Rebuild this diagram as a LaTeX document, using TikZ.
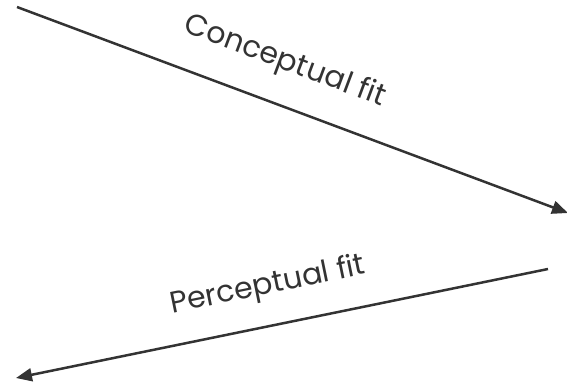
\documentclass[tikz,border=0pt]{standalone}
\usepackage{fontspec}
\setmainfont{Poppins}
\usetikzlibrary{arrows.meta}
\definecolor{ink}{HTML}{333333}
\begin{document}
\begin{tikzpicture}[x=1pt,y=-1pt,
  fitline/.style={draw=ink,line width=2.5pt,-{Triangle[length=16pt,width=13pt]}},
  fitlabel/.style={text=ink,font=\fontsize{30}{34}\selectfont,inner sep=0pt}]
\useasboundingbox (0,0) rectangle (567,386);
\coordinate (c1) at (17,7);
\coordinate (c2) at (568,213);
\coordinate (p1) at (548,269);
\coordinate (p2) at (16,378);
\draw[fitline] (c1) -- (c2);
\draw[fitline] (p1) -- (p2);
\node[fitlabel,rotate=-20.5] (cl) at (285,62) {Conceptual fit};
\node[fitlabel,rotate=11.6] (pl) at (268,286) {Perceptual fit};
\end{tikzpicture}
\end{document}
